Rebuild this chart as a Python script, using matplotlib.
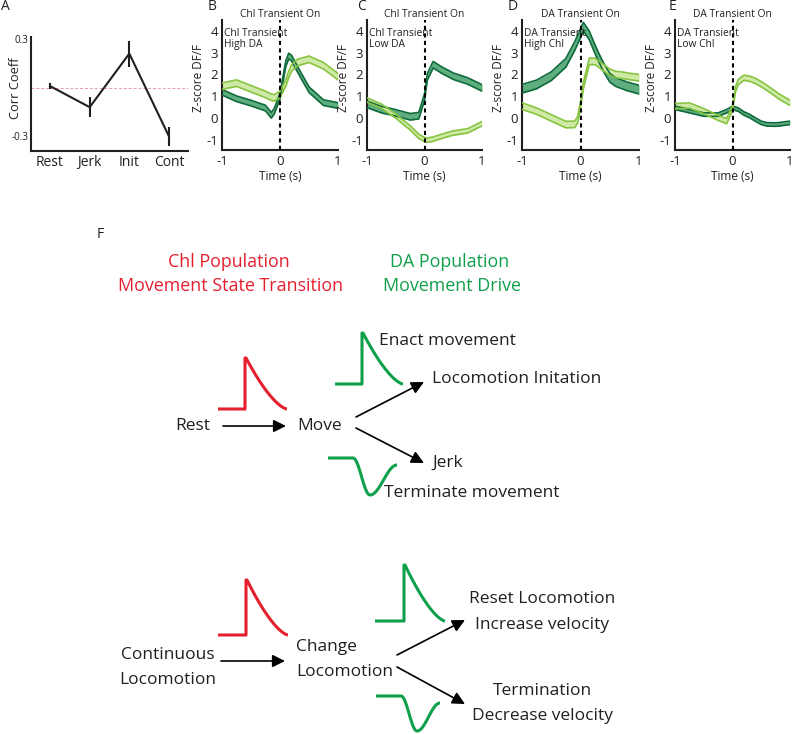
import numpy as np
import matplotlib
matplotlib.use("Agg")
import matplotlib.pyplot as plt
from matplotlib.transforms import blended_transform_factory

plt.rcParams['font.family'] = ['Open Sans', 'DejaVu Sans']

W, H = 792, 734

# ---------------- Data ----------------
# Panel A
a_categories = ["Rest", "Jerk", "Init", "Cont"]
a_values = [0.01, -0.12, 0.21, -0.30]
a_errors = [0.02, 0.06, 0.08, 0.06]
a_ytick_labels = ["0.3", "-0.3"]
a_yticks = [0.3, -0.3]

# Panel B: Chl transient on, high DA
tB = [-1, -0.75, -0.5, -0.25, -0.15, -0.1, 0, 0.1, 0.15, 0.2, 0.3, 0.5, 0.75, 1]
B_da = [1.46, 1.6, 1.34, 1.08, 0.95, 0.92, 1.08, 1.6, 2.0, 2.3, 2.55, 2.7, 2.4, 1.9]
B_chl = [1.18, 0.88, 0.68, 0.45, 0.12, 0.3, 1.0, 2.5, 2.85, 2.75, 2.25, 1.3, 0.7, 0.57]
B_da_sem, B_chl_sem = 0.15, 0.13

# Panel C: Chl transient on, low DA
tC = [-1, -0.75, -0.5, -0.25, -0.1, 0, 0.05, 0.15, 0.3, 0.5, 0.75, 1]
C_chl = [0.62, 0.38, 0.23, 0.05, 0.1, 0.95, 1.9, 2.45, 2.2, 1.92, 1.7, 1.38]
C_da = [0.82, 0.54, 0.08, -0.46, -0.85, -1.0, -1.03, -0.98, -0.85, -0.7, -0.6, -0.27]
C_chl_sem, C_da_sem = 0.15, 0.10

# Panel D: DA transient on, high Chl
tD = [-1, -0.75, -0.5, -0.25, -0.1, -0.05, 0, 0.05, 0.15, 0.25, 0.3, 0.4, 0.5, 0.6, 0.75, 0.8, 1]
D_chl = [1.34, 1.54, 1.92, 2.54, 3.3, 3.6, 3.9, 4.2, 3.8, 3.15, 2.85, 2.3, 1.85, 1.65, 1.5, 1.45, 1.3]
D_da = [0.54, 0.31, 0.0, -0.31, -0.3, -0.1, 0.6, 1.5, 2.6, 2.6, 2.5, 2.3, 2.1, 2.0, 1.95, 1.92, 1.85]
D_chl_sem, D_da_sem = 0.2, 0.15

# Panel E: DA transient on, low Chl
tE = [-1, -0.75, -0.5, -0.25, -0.1, 0, 0.05, 0.1, 0.2, 0.3, 0.4, 0.5, 0.6, 0.75, 0.8, 1]
E_da = [0.54, 0.57, 0.31, 0.0, -0.15, 0.46, 1.3, 1.65, 1.85, 1.8, 1.7, 1.55, 1.38, 1.1, 1.0, 0.69]
E_chl = [0.46, 0.31, 0.15, 0.15, 0.31, 0.46, 0.42, 0.38, 0.2, 0.08, -0.08, -0.23, -0.3, -0.31, -0.3, -0.23]
E_da_sem, E_chl_sem = 0.12, 0.08

trace_titles = ["Chl Transient On", "Chl Transient On", "DA Transient On", "DA Transient On"]
trace_notes = [("Chl Transient", "High DA"), ("Chl Transient", "Low DA"),
               ("DA Transient", "High Chl"), ("DA Transient", "Low Chl")]
trace_letters = ["B", "C", "D", "E"]
yticks_tr = [-1, 0, 1, 2, 3, 4]
xticks_tr = [-1, 0, 1]

# Panel F texts
chl_header = ["Chl Population", "Movement State Transition"]
da_header = ["DA Population", "Movement Drive"]

DARK_EDGE, DARK_FILL = '#0f6b3c', '#5fae80'
LIGHT_EDGE, LIGHT_FILL = '#86c441', '#cfe9a6'
RED = '#e5202e'
GREEN = '#0fa04b'
TXT = '#231f20'

fig = plt.figure(figsize=(W / 100, H / 100), dpi=100)


def rect(l, t, r, b):
    return [l / W, 1 - b / H, (r - l) / W, (b - t) / H]


# ---------------- Panel A ----------------
axA = fig.add_axes(rect(31, 37.4, 188, 151))
xa = np.arange(len(a_categories))
axA.axhline(0, color='#e89aa6', lw=0.7, ls=(0, (3, 2)), zorder=1)
axA.errorbar(xa, a_values, yerr=a_errors, color=TXT, lw=1.5, elinewidth=1.5, capsize=0, zorder=3)
axA.set_xlim(-0.48, 3.48)
axA.set_ylim(-0.39, 0.31)
axA.set_xticks(xa)
axA.set_xticklabels(a_categories, fontsize=10)
axA.set_yticks(a_yticks)
axA.set_yticklabels(a_ytick_labels, fontsize=7)
axA.tick_params(length=0, pad=2, colors=TXT)
axA.tick_params(axis='x', pad=3)
for s in ['top', 'right']:
    axA.spines[s].set_visible(False)
for s in ['left', 'bottom']:
    axA.spines[s].set_linewidth(1.5)
    axA.spines[s].set_color(TXT)
axA.set_ylabel("Corr Coeff", fontsize=9.3, color=TXT)
axA.yaxis.set_label_coords(-0.057, 0.555)
fig.text(5 / W, 1 - 7 / H, "A", fontsize=10, ha='center', va='center', color=TXT)

# ---------------- Panels B-E ----------------
panels = [
    (222, 338, tB, B_da, B_da_sem, B_chl, B_chl_sem, 212),
    (367, 482, tC, C_da, C_da_sem, C_chl, C_chl_sem, 362),
    (522, 639, tD, D_da, D_da_sem, D_chl, D_chl_sem, 513),
    (675, 790, tE, E_da, E_da_sem, E_chl, E_chl_sem, 672),
]
for i, (l, r, t, da, das, chl, chls, lx) in enumerate(panels):
    ax = fig.add_axes(rect(l, 20.2, r, 150.4))
    t = np.asarray(t)
    da = np.asarray(da)
    chl = np.asarray(chl)
    for y, s, ec, fc in [(chl, chls, DARK_EDGE, DARK_FILL), (da, das, LIGHT_EDGE, LIGHT_FILL)]:
        ax.fill_between(t, y - s, y + s, color=fc, lw=0, zorder=2)
        ax.plot(t, y - s, color=ec, lw=1.2, zorder=3)
        ax.plot(t, y + s, color=ec, lw=1.2, zorder=3)
    ax.axvline(0, color='black', lw=1.5, ls=(0, (2, 1.6)), zorder=4)
    ax.set_xlim(-1, 1)
    ax.set_ylim(-1.5, 4.5)
    ax.set_xticks(xticks_tr)
    ax.set_yticks(yticks_tr)
    ax.set_xticklabels([str(v) for v in xticks_tr], fontsize=9.5)
    ax.set_yticklabels([str(v) for v in yticks_tr], fontsize=9.5)
    ax.tick_params(length=0, pad=3, colors=TXT)
    for s in ['top', 'right']:
        ax.spines[s].set_visible(False)
    for s in ['left', 'bottom']:
        ax.spines[s].set_linewidth(1.5)
        ax.spines[s].set_color(TXT)
    ax.set_xlabel("Time (s)", fontsize=8.5, color=TXT)
    ax.xaxis.set_label_coords(0.5, -0.15)
    ax.set_ylabel("Z-score DF/F", fontsize=8.5, color=TXT)
    ax.yaxis.set_label_coords(-0.148, 0.556)
    ax.text(0.5, 1.04, trace_titles[i], transform=ax.transAxes, fontsize=7.4, ha='center', va='center', color=TXT)
    tr = blended_transform_factory(ax.transAxes, ax.transData)
    ax.text(0.02, 3.91, trace_notes[i][0], transform=tr, fontsize=7.4, ha='left', va='center', color=TXT, zorder=5)
    ax.text(0.02, 3.36, trace_notes[i][1], transform=tr, fontsize=7.4, ha='left', va='center', color=TXT, zorder=5)
    fig.text(lx / W, 1 - 7 / H, trace_letters[i], fontsize=10, ha='center', va='center', color=TXT)

# ---------------- Panel F ----------------
axF = fig.add_axes([0, 0, 1, 1], zorder=-1)
axF.set_xlim(0, W)
axF.set_ylim(H, 0)
axF.axis('off')
axF.patch.set_alpha(0)

HFS = 12.9
axF.text(100, 234, "F", fontsize=10, ha='center', va='center', color=TXT)
axF.text(229, 262, chl_header[0], fontsize=HFS, ha='center', va='center', color=RED)
axF.text(231, 286, chl_header[1], fontsize=HFS, ha='center', va='center', color=RED)
axF.text(450, 262, da_header[0], fontsize=HFS, ha='center', va='center', color=GREEN)
axF.text(452, 286, da_header[1], fontsize=HFS, ha='center', va='center', color=GREEN)


def pulse_up(x0, x1, x2, ybase, ypeak, color):
    u = np.linspace(0, 1, 80)
    h = (1 - u) ** 1.5
    xs = np.concatenate([[x0, x1, x1], x1 + 1.0 + u * (x2 - x1 - 1.0)])
    ys = np.concatenate([[ybase, ybase, ypeak], ybase - h * (ybase - ypeak)])
    axF.plot(xs, ys, color=color, lw=2.2, solid_capstyle='butt', solid_joinstyle='round')


def pulse_dip(x0, x1, xb, x2, ybase, ybot, yend, color):
    v = np.linspace(0, 1, 40)
    xl = x1 + v * (xb - x1)
    yl = ybase + (ybot - ybase) * (1 - np.cos(np.pi * v)) / 2
    xr = xb + v * (x2 - xb)
    yr = ybot + (yend - ybot) * (1 - np.cos(np.pi * v)) / 2
    xs = np.concatenate([[x0], xl, xr])
    ys = np.concatenate([[ybase], yl, yr])
    axF.plot(xs, ys, color=color, lw=2.2, solid_capstyle='butt')


def arrow(x0, y0, x1, y1):
    axF.annotate("", xy=(x1, y1), xytext=(x0, y0),
                 arrowprops=dict(arrowstyle='-|>,head_length=0.5,head_width=0.25', lw=1.2, color='black',
                                 mutation_scale=15, shrinkA=0, shrinkB=0))


FS = 12.5
# Upper scheme
pulse_up(218, 245, 287, 409, 358, RED)
axF.text(193, 426, "Rest", fontsize=FS, ha='center', va='center', color=TXT)
arrow(223, 426, 286, 426)
axF.text(320, 426, "Move", fontsize=FS, ha='center', va='center', color=TXT)
pulse_up(335, 362, 403, 384, 333, GREEN)
axF.text(379, 341, "Enact movement", fontsize=FS, ha='left', va='center', color=TXT)
arrow(356, 417, 424, 382)
axF.text(432, 379, "Locomotion Initation", fontsize=FS, ha='left', va='center', color=TXT)
arrow(356, 428, 424, 463)
axF.text(432, 463, "Jerk", fontsize=FS, ha='left', va='center', color=TXT)
pulse_dip(328, 353, 370, 397, 458, 495, 465, GREEN)
axF.text(384, 493, "Terminate movement", fontsize=FS, ha='left', va='center', color=TXT)

# Lower scheme
pulse_up(218, 246, 288, 635, 580, RED)
axF.text(168, 655, "Continuous", fontsize=FS, ha='center', va='center', color=TXT)
axF.text(168, 680, "Locomotion", fontsize=FS, ha='center', va='center', color=TXT)
arrow(221, 661, 285, 661)
axF.text(296, 647, "Change", fontsize=FS, ha='left', va='center', color=TXT)
axF.text(296, 672, "Locomotion", fontsize=FS, ha='left', va='center', color=TXT)
pulse_up(375, 404, 445, 621, 565, GREEN)
arrow(397, 655, 465, 620)
axF.text(542, 599, "Reset Locomotion", fontsize=FS, ha='center', va='center', color=TXT)
axF.text(542, 625, "Increase velocity", fontsize=FS, ha='center', va='center', color=TXT)
arrow(397, 667, 465, 704)
axF.text(542, 691, "Termination", fontsize=FS, ha='center', va='center', color=TXT)
axF.text(542, 716, "Decrease velocity", fontsize=FS, ha='center', va='center', color=TXT)
pulse_dip(376, 401, 417, 440, 696, 731, 703, GREEN)

fig.savefig("out.png", dpi=100)
